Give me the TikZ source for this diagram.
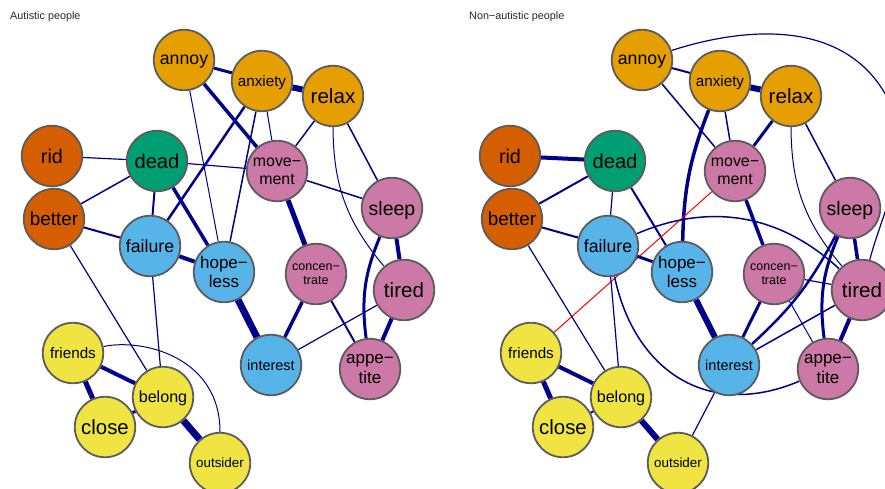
\documentclass[tikz,border=0pt]{standalone}
\usepackage{fontspec}
\setmainfont{Liberation Sans}
\usetikzlibrary{backgrounds}
\definecolor{cOr}{HTML}{E69F00}
\definecolor{cVm}{HTML}{D55E00}
\definecolor{cGr}{HTML}{009E73}
\definecolor{cSb}{HTML}{56B4E9}
\definecolor{cRp}{HTML}{CC79A7}
\definecolor{cYe}{HTML}{F0E442}
\definecolor{cEdge}{HTML}{00008B}
\definecolor{cBorder}{HTML}{5C5C5C}
\newcommand\fsz[2]{\fontsize{#1}{#2}\selectfont}
\tikzset{
  nd/.style={circle, draw=cBorder, line width=1.8pt, minimum size=60.5pt,
             inner sep=0pt, align=center, text=black, text depth=0pt},
  ed/.style={draw=cEdge, line width=#1pt},
  edneg/.style={draw=red, line width=#1pt},
  ttl/.style={anchor=base west, inner sep=0pt, font=\fsz{10.8}{12}, text=black!85}
}
\newcommand\panelnodes[1]{%
  \node[nd, fill=cOr, font=\fsz{17.7}{20}] (#1annoy) at (184,60) {annoy};
  \node[nd, fill=cOr, font=\fsz{15.2}{17}] (#1anxiety) at (262,81) {anxiety};
  \node[nd, fill=cOr, font=\fsz{20.6}{23}] (#1relax) at (333,96) {relax};
  \node[nd, fill=cVm, font=\fsz{19.8}{22}] (#1rid) at (52,156) {rid};
  \node[nd, fill=cGr, font=\fsz{20.2}{22}] (#1dead) at (157,161) {dead};
  \node[nd, fill=cRp, font=\fsz{15.9}{18.3}] (#1movement) at (277,171) {move−\\ment};
  \node[nd, fill=cVm, font=\fsz{18.9}{21}] (#1better) at (54,219) {better};
  \node[nd, fill=cRp, font=\fsz{19.5}{22}] (#1sleep) at (392,208) {sleep};
  \node[nd, fill=cSb, font=\fsz{17.7}{20}] (#1failure) at (150,246) {failure};
  \node[nd, fill=cSb, font=\fsz{17}{18.4}] (#1hopeless) at (224,272) {hope−\\less};
  \node[nd, fill=cRp, font=\fsz{12.5}{14.2}] (#1concentrate) at (316,274) {concen−\\trate};
  \node[nd, fill=cRp, font=\fsz{20.6}{23}] (#1tired) at (404,290) {tired};
  \node[nd, fill=cSb, font=\fsz{14.5}{16}] (#1interest) at (271,365) {interest};
  \node[nd, fill=cRp, font=\fsz{17}{20}] (#1appetite) at (370,369) {appe−\\tite};
  \node[nd, fill=cYe, font=\fsz{15.2}{17}] (#1friends) at (73,353) {friends};
  \node[nd, fill=cYe, font=\fsz{16.1}{18}] (#1belong) at (163,397) {belong};
  \node[nd, fill=cYe, font=\fsz{20.4}{23}] (#1close) at (105,427) {close};
  \node[nd, fill=cYe, font=\fsz{13.4}{15}] (#1outsider) at (220,463) {outsider};
}
\begin{document}
\begin{tikzpicture}[x=1pt, y=-1pt]
\useasboundingbox (0,0) rectangle (885,489);
\node[ttl] (t1) at (10,20) {Autistic people};
\node[ttl] (t2) at (469,20) {Non−autistic people};
\begin{scope}
  \panelnodes{L}
\end{scope}
\begin{scope}[xshift=458pt]
  \panelnodes{R}
\end{scope}
\begin{pgfonlayer}{background}
  % ---------- left panel ----------
  \draw[ed=3] (Lannoy) -- (Lanxiety);
  \draw[ed=6] (Lanxiety) -- (Lrelax);
  \draw[ed=3.5] (Lannoy) -- (Lmovement);
  \draw[ed=1] (Lannoy) -- (Lhopeless);
  \draw[ed=2.5] (Lanxiety) -- (Lfailure);
  \draw[ed=1.5] (Lanxiety) -- (Lhopeless);
  \draw[ed=1] (Lanxiety) -- (Lmovement);
  \draw[ed=1.5] (Lrelax) -- (Lmovement);
  \draw[ed=1.5] (Lrelax) -- (Lsleep);
  \draw[ed=1] (Lrelax) to[bend right=20] (Ltired);
  \draw[ed=1.2] (Lrid) -- (Ldead);
  \draw[ed=1.2] (Ldead) -- (Lmovement);
  \draw[ed=1.5] (Lbetter) -- (Ldead);
  \draw[ed=2] (Ldead) -- (Lfailure);
  \draw[ed=3.5] (Ldead) -- (Lhopeless);
  \draw[ed=2] (Lbetter) -- (Lfailure);
  \draw[ed=1.5] (Lmovement) -- (Lsleep);
  \draw[ed=5] (Lmovement) -- (Lconcentrate);
  \draw[ed=4] (Lsleep) -- (Ltired);
  \draw[ed=3] (Lsleep) to[bend right=15] (Lappetite);
  \draw[ed=4] (Ltired) -- (Lappetite);
  \draw[ed=1.2] (Ltired) -- (Linterest);
  \draw[ed=3.5] (Lconcentrate) -- (Linterest);
  \draw[ed=2] (Lconcentrate) -- (Lappetite);
  \draw[ed=7] (Lhopeless) -- (Linterest);
  \draw[ed=4] (Lfailure) -- (Lhopeless);
  \draw[ed=1.2] (Lbetter) -- (Lbelong);
  \draw[ed=1.2] (Lfailure) -- (Lbelong);
  \draw[ed=4] (Lfriends) -- (Lbelong);
  \draw[ed=5] (Lfriends) -- (Lclose);
  \draw[ed=3] (Lclose) -- (Lbelong);
  \draw[ed=7] (Lbelong) -- (Loutsider);
  \draw[ed=1] (Lfriends) to[out=12, in=90, out distance=40pt, in distance=75pt] (Loutsider);
  % ---------- right panel ----------
  \draw[ed=2] (Rannoy) -- (Ranxiety);
  \draw[ed=6] (Ranxiety) -- (Rrelax);
  \draw[ed=1.5] (Rannoy) -- (Rmovement);
  \draw[ed=1.5] (Ranxiety) -- (Rmovement);
  \draw[ed=3.5] (Ranxiety) to[bend right=10] (Rhopeless);
  \draw[ed=3] (Rrelax) -- (Rmovement);
  \draw[ed=1.5] (Rrelax) -- (Rsleep);
  \draw[ed=1] (Rrelax) to[bend right=20] (Rtired);
  \draw[ed=1.2] (Rannoy) .. controls (760,22) and (870,20) .. (900,130)
                         .. controls (905,170) and (880,220) .. (Rtired);
  \draw[ed=4] (Rrid) -- (Rdead);
  \draw[ed=2] (Rbetter) -- (Rdead);
  \draw[ed=1.2] (Rdead) -- (Rfailure);
  \draw[ed=2] (Rdead) -- (Rhopeless);
  \draw[ed=2] (Rbetter) -- (Rfailure);
  \draw[ed=3.5] (Rmovement) -- (Rconcentrate);
  \draw[edneg=1] (Rmovement) -- (Rfriends);
  \draw[ed=1.5] (Rfailure) to[bend left=33] (Rtired);
  \draw[ed=1.2] (Rfailure) -- (Rbelong);
  \draw[ed=1.5] (Rfailure) to[out=-78, in=203, looseness=1.18] (Rappetite);
  \draw[ed=1.2] (Rbetter) -- (Rbelong);
  \draw[ed=3] (Rfailure) -- (Rhopeless);
  \draw[ed=6] (Rhopeless) -- (Rinterest);
  \draw[ed=3] (Rconcentrate) -- (Rinterest);
  \draw[ed=1.2] (Rconcentrate) -- (Rtired);
  \draw[ed=1] (Rconcentrate) -- (Rappetite);
  \draw[ed=2.5] (Rsleep) to[bend left=10] (Rinterest);
  \draw[ed=3.5] (Rsleep) -- (Rtired);
  \draw[ed=3] (Rsleep) to[bend right=15] (Rappetite);
  \draw[ed=4] (Rtired) -- (Rappetite);
  \draw[ed=1.5] (Rtired) -- (Rinterest);
  \draw[ed=1.2] (Rinterest) -- (Routsider);
  \draw[ed=4] (Rfriends) -- (Rbelong);
  \draw[ed=5] (Rfriends) -- (Rclose);
  \draw[ed=6] (Rbelong) -- (Routsider);
  \draw[ed=2] (Rclose) -- (Rbelong);
\end{pgfonlayer}
\end{tikzpicture}
\end{document}
